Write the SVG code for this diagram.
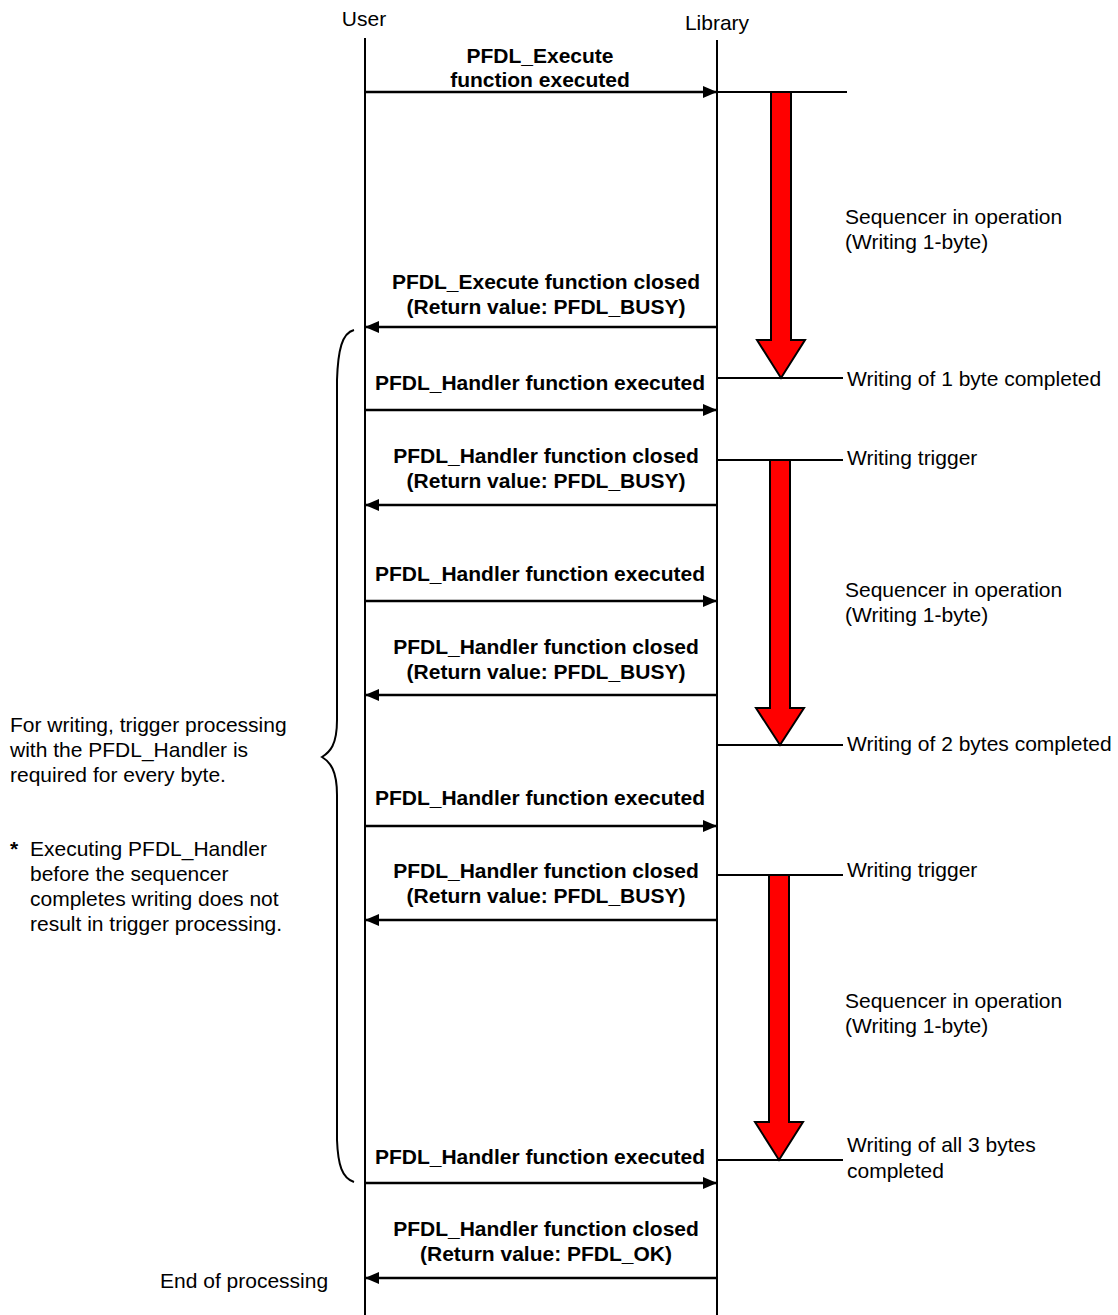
<svg xmlns="http://www.w3.org/2000/svg" width="1118" height="1315" viewBox="0 0 1118 1315">
<style>
text{font-family:"Liberation Sans",Arial,sans-serif;font-size:21px;fill:#000}
.b{font-weight:bold;text-anchor:middle}
.life{stroke:#000;stroke-width:2;fill:none}
.msg{stroke:#000;stroke-width:2.5;fill:none}
.tick{stroke:#000;stroke-width:2;fill:none}
.red{fill:#ff0000;stroke:#000;stroke-width:2;stroke-linejoin:miter}
</style>
<defs>
<marker id="ah" markerWidth="14" markerHeight="12" refX="14" refY="6" orient="auto" markerUnits="userSpaceOnUse">
<path d="M0,0 L14,6 L0,12 Z" fill="#000"/>
</marker>
</defs>
<g id="user">
<text x="364" y="26" text-anchor="middle">User</text>
<line class="life" x1="365" y1="38" x2="365" y2="1315"/>
</g>
<g id="library">
<text x="717" y="30" text-anchor="middle">Library</text>
<line class="life" x1="717" y1="40" x2="717" y2="1315"/>
</g>
<g id="connectors">
<line class="msg" x1="365" y1="92" x2="717" y2="92" marker-end="url(#ah)"/>
<line class="msg" x1="717" y1="327" x2="365" y2="327" marker-end="url(#ah)"/>
<line class="msg" x1="365" y1="410" x2="717" y2="410" marker-end="url(#ah)"/>
<line class="msg" x1="717" y1="505" x2="365" y2="505" marker-end="url(#ah)"/>
<line class="msg" x1="365" y1="601" x2="717" y2="601" marker-end="url(#ah)"/>
<line class="msg" x1="717" y1="695" x2="365" y2="695" marker-end="url(#ah)"/>
<line class="msg" x1="365" y1="826" x2="717" y2="826" marker-end="url(#ah)"/>
<line class="msg" x1="717" y1="920" x2="365" y2="920" marker-end="url(#ah)"/>
<line class="msg" x1="365" y1="1183" x2="717" y2="1183" marker-end="url(#ah)"/>
<line class="msg" x1="717" y1="1278" x2="365" y2="1278" marker-end="url(#ah)"/>
<line class="tick" x1="717" y1="92" x2="847" y2="92"/>
<line class="tick" x1="717" y1="378" x2="843" y2="378"/>
<line class="tick" x1="717" y1="460" x2="843" y2="460"/>
<line class="tick" x1="717" y1="745" x2="843" y2="745"/>
<line class="tick" x1="717" y1="875" x2="843" y2="875"/>
<line class="tick" x1="717" y1="1160" x2="843" y2="1160"/>
</g>
<g id="msg-labels">
<text class="b" x="540" y="63">PFDL_Execute</text>
<text class="b" x="540" y="87">function executed</text>
<text class="b" x="546" y="289">PFDL_Execute function closed</text>
<text class="b" x="546" y="314">(Return value: PFDL_BUSY)</text>
<text class="b" x="540" y="390">PFDL_Handler function executed</text>
<text class="b" x="546" y="463">PFDL_Handler function closed</text>
<text class="b" x="546" y="488">(Return value: PFDL_BUSY)</text>
<text class="b" x="540" y="581">PFDL_Handler function executed</text>
<text class="b" x="546" y="654">PFDL_Handler function closed</text>
<text class="b" x="546" y="679">(Return value: PFDL_BUSY)</text>
<text class="b" x="540" y="805">PFDL_Handler function executed</text>
<text class="b" x="546" y="878">PFDL_Handler function closed</text>
<text class="b" x="546" y="903">(Return value: PFDL_BUSY)</text>
<text class="b" x="540" y="1164">PFDL_Handler function executed</text>
<text class="b" x="546" y="1236">PFDL_Handler function closed</text>
<text class="b" x="546" y="1261">(Return value: PFDL_OK)</text>
</g>
<g id="sequencer1">
<path class="red" d="M771,92 H791 V340 H805 L781,378 L757,340 H771 Z"/>
<text x="845" y="224">Sequencer in operation</text>
<text x="845" y="249">(Writing 1-byte)</text>
</g>
<g id="sequencer2">
<path class="red" d="M770,460 H790 V708 H804 L780,745 L756,708 H770 Z"/>
<text x="845" y="597">Sequencer in operation</text>
<text x="845" y="622">(Writing 1-byte)</text>
</g>
<g id="sequencer3">
<path class="red" d="M769,875 H789 V1122 H803 L779,1160 L755,1122 H769 Z"/>
<text x="845" y="1008">Sequencer in operation</text>
<text x="845" y="1033">(Writing 1-byte)</text>
</g>
<g id="events">
<text x="847" y="386">Writing of 1 byte completed</text>
<text x="847" y="465">Writing trigger</text>
<text x="847" y="751">Writing of 2 bytes completed</text>
<text x="847" y="877">Writing trigger</text>
<text x="847" y="1152">Writing of all 3 bytes</text>
<text x="847" y="1178">completed</text>
</g>
<g id="brace">
<path d="M354,330 C342,333 338,350 337,380 L337,720 C337,745 330,752 322,757 C330,762 337,770 337,795 L337,1140 C338,1165 342,1178 354,1182" fill="none" stroke="#000" stroke-width="2"/>
</g>
<g id="notes">
<text x="10" y="732">For writing, trigger processing</text>
<text x="10" y="757">with the PFDL_Handler is</text>
<text x="10" y="782">required for every byte.</text>
<text x="10" y="856" font-weight="bold">*</text>
<text x="30" y="856">Executing PFDL_Handler</text>
<text x="30" y="881">before the sequencer</text>
<text x="30" y="906">completes writing does not</text>
<text x="30" y="931">result in trigger processing.</text>
<text x="160" y="1288">End of processing</text>
</g>
</svg>
